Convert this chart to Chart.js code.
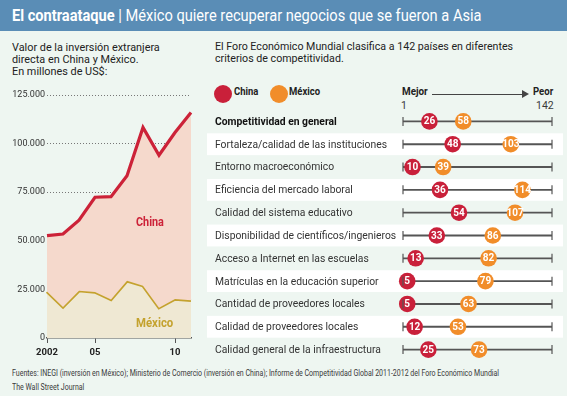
<!DOCTYPE html>
<html lang="es">
<head>
<meta charset="utf-8">
<script src="https://cdn.jsdelivr.net/npm/chart.js@4/dist/chart.umd.min.js"></script>
<style>
  body { margin: 0; width: 567px; height: 396px; background: #eef6f1; position: relative; overflow: hidden;
         font-family: Roboto, "Noto Sans", sans-serif; color: #222; }
  .hdr { position: absolute; left: 0; top: 0; width: 567px; height: 31px; background: #5a8db6; }
  .txt { position: absolute; white-space: nowrap; transform-origin: 0 0; }
  canvas { position: absolute; }
  .dot { position: absolute; border-radius: 50%; }
</style>
</head>
<body>
<div class="hdr"></div>
<div class="txt" data-w="470" style="left:12px;top:7.5px;font-size:16px;line-height:16px;color:#fff;"><b>El contraataque</b> | México quiere recuperar negocios que se fueron a Asia</div>

<div class="txt" data-w="148" style="left:12px;top:41.5px;font-size:11px;line-height:12px;">Valor de la inversión extranjera<br>directa en China y México.<br>En millones de US$:</div>
<div class="txt" data-w="298" style="left:215px;top:40.5px;font-size:11px;line-height:12px;">El Foro Económico Mundial clasifica a 142 países en diferentes<br>criterios de competitividad.</div>

<div class="dot" style="left:214px;top:84.5px;width:18px;height:18px;background:#c9203a;"></div>
<div class="txt" data-w="24" style="left:234px;top:86px;font-size:11px;line-height:12px;font-weight:bold;">China</div>
<div class="dot" style="left:269.5px;top:84.5px;width:18px;height:18px;background:#f18d2a;"></div>
<div class="txt" data-w="31" style="left:289px;top:86px;font-size:11px;line-height:12px;font-weight:bold;">México</div>

<div class="txt" data-w="26" style="left:402px;top:86px;font-size:11px;line-height:12px;font-weight:bold;">Mejor</div>
<div class="txt" style="left:432px;top:93.5px;width:92px;height:1px;background:#444;"></div>
<div class="txt" style="left:522px;top:90px;width:0;height:0;border-left:7px solid #444;border-top:4px solid transparent;border-bottom:4px solid transparent;"></div>
<div class="txt" data-w="20" style="left:533px;top:86px;font-size:11px;line-height:12px;font-weight:bold;">Peor</div>
<div class="txt" style="left:401px;top:100px;font-size:10.5px;line-height:12px;color:#3a3a3a;">1</div>
<div class="txt" style="left:536px;top:100px;font-size:10.5px;line-height:12px;color:#3a3a3a;">142</div>

<canvas id="fdi" width="200" height="280" style="left:0;top:85px;"></canvas>
<div class="txt" data-w="28" style="left:136px;top:215.6px;font-size:12px;line-height:12px;font-weight:bold;color:#cc2238;">China</div>
<div class="txt" data-w="37" style="left:136px;top:316.6px;font-size:12px;line-height:12px;font-weight:bold;color:#c4a22e;">México</div>

<canvas id="rank" width="367" height="251" style="left:200px;top:110px;"></canvas>

<div class="txt" data-w="487" style="left:12px;top:365.5px;font-size:9.5px;line-height:14px;color:#3a3a3a;">Fuentes: INEGI (inversión en México); Ministerio de Comercio (inversión en China); Informe de Competitividad Global 2011-2012 del Foro Económico Mundial<br>The Wall Street Journal</div>

<script>
// ----- Data -----
const years = ["2002", "03", "04", "05", "06", "07", "08", "09", "10", "11"];
const yearLabels = { 0: "2002", 3: "05", 8: "10" };
const chinaFdi = [52700, 53500, 60600, 72400, 72700, 83500, 108300, 94000, 105700, 116000];
const mexicoFdi = [23900, 16000, 24300, 23600, 19800, 29400, 26900, 15600, 20000, 19400];

const criteria = [
  "Competitividad en general",
  "Fortaleza/calidad de las instituciones",
  "Entorno macroeconómico",
  "Eficiencia del mercado laboral",
  "Calidad del sistema educativo",
  "Disponibilidad de científicos/ingenieros",
  "Acceso a Internet en las escuelas",
  "Matrículas en la educación superior",
  "Cantidad de proveedores locales",
  "Calidad de proveedores locales",
  "Calidad general de la infraestructura"
];
const chinaRank = [26, 48, 10, 36, 54, 33, 13, 5, 5, 12, 25];
const mexicoRank = [58, 103, 39, 114, 107, 86, 82, 79, 63, 53, 73];
const rankMin = 1, rankMax = 142;

const FONT = "Roboto, 'Noto Sans', sans-serif";
const RED = "#cc2238", GOLD = "#c4a22e", ORANGE = "#f18d2a", CRED = "#c9203a";

// squeeze html text blocks to the width they have in the print graphic
document.querySelectorAll("[data-w]").forEach(el => {
  const k = parseFloat(el.dataset.w) / el.offsetWidth;
  el.style.transform = "scaleX(" + k.toFixed(3) + ")";
});

// ----- Left: FDI line chart -----
new Chart(document.getElementById("fdi"), {
  type: "line",
  data: {
    labels: years,
    datasets: [
      { label: "China", data: chinaFdi, borderColor: RED, backgroundColor: "#f5d9cc",
        fill: "+1", borderWidth: 3.2, pointRadius: 0, tension: 0 },
      { label: "México", data: mexicoFdi, borderColor: GOLD, backgroundColor: "#efe8d3",
        fill: "origin", borderWidth: 3.2, pointRadius: 0, tension: 0 }
    ]
  },
  options: {
    responsive: false, animation: false,
    layout: { autoPadding: false, padding: { top: 10, right: 9, left: 0, bottom: 0 } },
    plugins: { legend: { display: false }, tooltip: { enabled: false } },
    scales: {
      x: {
        offset: false,
        afterFit: s => { s.height = 27; },
        border: { display: true, color: "#555", width: 1.5 },
        grid: { drawOnChartArea: false, tickLength: 5, lineWidth: 1,
                color: c => (c.index in yearLabels) ? "#555" : "rgba(0,0,0,0)" },
        ticks: { autoSkip: false, maxRotation: 0, padding: 4, color: "#222",
                 font: { family: FONT, size: 9.5, weight: "bold" },
                 callback: (v, i) => yearLabels[i] || "" }
      },
      y: {
        min: 0, max: 125000,
        afterFit: s => { s.width = 47; },
        border: { display: false, dash: [1, 2] },
        grid: { drawTicks: false, lineWidth: 1,
                color: c => c.tick && c.tick.value === 0 ? "rgba(0,0,0,0)" : "#777" },
        ticks: { stepSize: 25000, padding: 2, color: "#333",
                 font: { family: FONT, size: 9 },
                 callback: v => v === 0 ? "0" : v.toLocaleString("de-DE") }
      }
    }
  }
});

// ----- Right: competitiveness rankings -----
const stripes = {
  id: "stripes",
  beforeDraw(chart) {
    const { ctx } = chart, y = chart.scales.y;
    const step = y.getPixelForValue(1) - y.getPixelForValue(0);
    ctx.save();
    ctx.fillStyle = "#ffffff";
    criteria.forEach((c, i) => {
      if (i % 2 === 1) ctx.fillRect(7, y.getPixelForValue(i) - step / 2 + 0.5, 356, step - 1);
    });
    ctx.restore();
  }
};
const rowText = {
  id: "rowText",
  afterDraw(chart) {
    const { ctx } = chart, x = chart.scales.x, y = chart.scales.y;
    ctx.save();
    // end caps of each 1-142 scale
    ctx.strokeStyle = "#555"; ctx.lineWidth = 1.2;
    criteria.forEach((c, i) => {
      const py = y.getPixelForValue(i);
      [rankMin, rankMax].forEach(v => {
        const px = x.getPixelForValue(v);
        ctx.beginPath(); ctx.moveTo(px, py - 4.5); ctx.lineTo(px, py + 4.5); ctx.stroke();
      });
    });
    // category labels, narrowed like the original face
    ctx.font = "11.5px " + FONT;
    const sx = 172 / ctx.measureText(criteria[1]).width;
    ctx.textBaseline = "middle"; ctx.textAlign = "left";
    criteria.forEach((c, i) => {
      ctx.save();
      ctx.translate(15, y.getPixelForValue(i) + 0.5);
      ctx.scale(sx, 1);
      ctx.font = (i === 0 ? "bold " : "") + "11.5px " + FONT;
      ctx.fillStyle = i === 0 ? "#111" : "#333";
      ctx.fillText(c, 0, 0);
      ctx.restore();
    });
    // numbers inside the dots
    ctx.fillStyle = "#fff";
    ctx.font = "bold 10px " + FONT;
    ctx.textAlign = "center";
    [1, 2].forEach(di => {
      chart.getDatasetMeta(di).data.forEach((pt, i) => {
        ctx.fillText(String(chart.data.datasets[di].data[i].x), pt.x, pt.y + 0.5);
      });
    });
    ctx.restore();
  }
};

new Chart(document.getElementById("rank"), {
  type: "bar",
  data: {
    labels: criteria,
    datasets: [
      { type: "bar", data: criteria.map(() => [rankMin, rankMax]), backgroundColor: "#555",
        barThickness: 1.2, borderSkipped: false, order: 3 },
      { type: "scatter", data: chinaRank.map((v, i) => ({ x: v, y: criteria[i] })),
        backgroundColor: CRED, pointRadius: 8.3, pointBorderWidth: 0, clip: false, order: 2 },
      { type: "scatter", data: mexicoRank.map((v, i) => ({ x: v, y: criteria[i] })),
        backgroundColor: ORANGE, pointRadius: 8.3, pointBorderWidth: 0, clip: false, order: 1 }
    ]
  },
  options: {
    indexAxis: "y",
    responsive: false, animation: false,
    layout: { autoPadding: false, padding: { top: 0, right: 15, left: 15, bottom: 0 } },
    plugins: { legend: { display: false }, tooltip: { enabled: false } },
    scales: {
      x: { type: "linear", min: rankMin, max: rankMax, display: false },
      y: {
        type: "category", offset: true,
        afterFit: s => { s.width = 188; },
        border: { display: false },
        grid: { display: false },
        ticks: { display: false }
      }
    }
  },
  plugins: [stripes, rowText]
});
</script>
</body>
</html>
